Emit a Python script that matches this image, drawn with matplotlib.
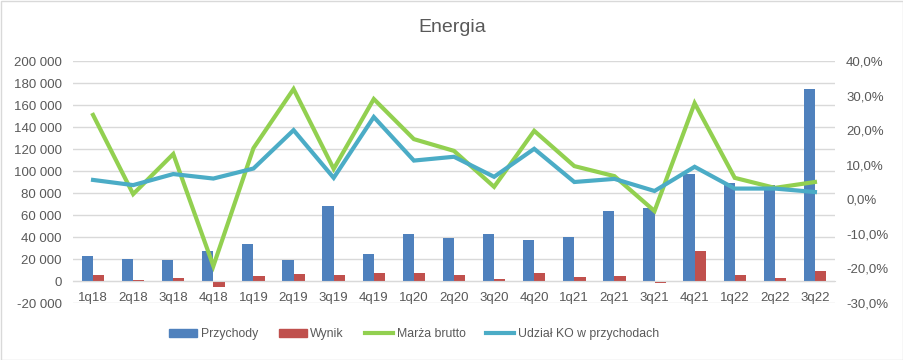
import matplotlib
matplotlib.use("Agg")
import matplotlib.pyplot as plt
import numpy as np
from matplotlib.ticker import FuncFormatter, MultipleLocator
from matplotlib.patches import Rectangle
from matplotlib.lines import Line2D

categories = ["1q18", "2q18", "3q18", "4q18", "1q19", "2q19", "3q19", "4q19", "1q20", "2q20",
              "3q20", "4q20", "1q21", "2q21", "3q21", "4q21", "1q22", "2q22", "3q22"]
przychody = [23000, 20000, 19000, 27300, 33600, 19000, 68200, 24500, 42700, 39000,
             42700, 37300, 40000, 63600, 66400, 97300, 89100, 87300, 174500]
wynik = [5500, 1000, 2700, -5500, 4500, 6400, 5500, 7300, 7300, 5500,
         2000, 7300, 3600, 4500, -1500, 27300, 5500, 2700, 9100]
marza = [24.4, 1.5, 13.1, -19.3, 14.8, 31.9, 8.8, 29.0, 17.4, 14.0,
         3.6, 19.8, 9.6, 6.7, -3.4, 27.8, 6.2, 3.3, 5.0]
udzial_ko = [5.6, 4.1, 7.3, 6.0, 8.9, 20.0, 6.2, 23.8, 11.2, 12.3,
             6.5, 14.6, 5.0, 5.9, 2.4, 9.4, 3.1, 3.1, 2.1]

plt.rcParams['font.family'] = ['Liberation Sans', 'DejaVu Sans']
txt = '#595959'
c_blue, c_red, c_green, c_teal = '#4f81bd', '#c0504d', '#92d050', '#4bacc6'

fig = plt.figure(figsize=(9.04, 3.6), dpi=100)
ax = fig.add_axes([73/904, 1-303/360, (835-73)/904, (303-61)/360])
ax2 = ax.twinx()

x = np.arange(len(categories))
w = 0.28
ax.bar(x - w/2, przychody, width=w, color=c_blue, zorder=2)
ax.bar(x + w/2, wynik, width=w, color=c_red, zorder=2)
ax.set_xlim(-0.5, len(categories) - 0.5)
ax.set_ylim(-20000, 200000)
ax.yaxis.set_major_locator(MultipleLocator(20000))
ax.yaxis.set_major_formatter(FuncFormatter(lambda v, p: f"{int(v):,}".replace(",", " ")))
ax.grid(axis='y', color='#d9d9d9', lw=1, zorder=0)
ax.set_axisbelow(True)
for s in ['top', 'right', 'left']:
    ax.spines[s].set_visible(False)
ax.spines['bottom'].set_position(('data', 0))
ax.spines['bottom'].set_color('#d9d9d9')
ax.set_xticks(x)
ax.set_xticklabels(categories)
ax.tick_params(axis='x', length=0, pad=8, labelsize=9.5, labelcolor=txt)
ax.tick_params(axis='y', length=0, pad=8, labelsize=9.5, labelcolor=txt)

ax2.plot(x, marza, color=c_green, lw=3, solid_joinstyle='miter', zorder=3)
ax2.plot(x, udzial_ko, color=c_teal, lw=3, solid_joinstyle='miter', zorder=3)
ax2.set_ylim(-30, 40)
ax2.yaxis.set_major_locator(MultipleLocator(10))
ax2.yaxis.set_major_formatter(FuncFormatter(lambda v, p: f"{v:.1f}%".replace(".", ",")))
ax2.tick_params(axis='y', length=0, pad=8, labelsize=9.5, labelcolor=txt)
for s in ax2.spines.values():
    s.set_visible(False)

fig.text(452/904, 1-27/360, "Energia", ha='center', va='center', fontsize=14, color=txt)

handles = [Rectangle((0, 0), 1, 1, color=c_blue), Rectangle((0, 0), 1, 1, color=c_red),
           Line2D([], [], color=c_green, lw=3), Line2D([], [], color=c_teal, lw=3)]
labels = ["Przychody", "Wynik", "Marża brutto", "Udział KO w przychodach"]
fig.legend(handles, labels, loc='center', bbox_to_anchor=(414/904, 1-334/360), ncol=4,
           frameon=False, fontsize=8.8, labelcolor=txt, handlelength=2.3, handleheight=0.6,
           handletextpad=0.3, columnspacing=1.7, borderpad=0, borderaxespad=0)

fig.add_artist(Rectangle((0.5/904, 0.5/360), 1-1/904, 1-1/360, transform=fig.transFigure,
                         fill=False, edgecolor='#d9d9d9', lw=1))
fig.savefig("out.png", dpi=100)
